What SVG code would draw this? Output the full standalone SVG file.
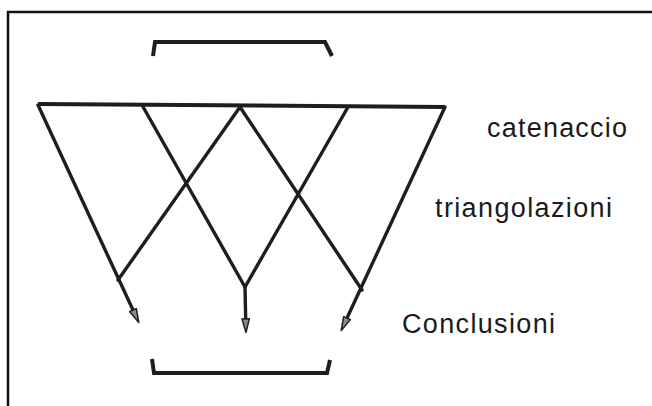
<svg xmlns="http://www.w3.org/2000/svg" width="652" height="406" viewBox="0 0 652 406">
  <style>
    .ln { stroke: #1e1e1e; stroke-width: 3.4; fill: none; stroke-linecap: round; stroke-linejoin: round; }
    .bar { stroke: #1e1e1e; stroke-width: 4; fill: none; stroke-linejoin: miter; }
    .frame { stroke: #111; stroke-width: 2.5; fill: none; }
    .lbl { font-family: "Liberation Sans", Arial, sans-serif; font-size: 27px; fill: #1a1a1a; }
  </style>
  <defs>
    <marker id="arr" viewBox="0 0 15 9" refX="6" refY="4.5" markerWidth="15" markerHeight="9" markerUnits="userSpaceOnUse" orient="auto">
      <path d="M0.8,0.8 L14.5,4.5 L0.8,8.2 Z" fill="#8a8a8a" stroke="#1e1e1e" stroke-width="1.5" stroke-linejoin="miter"/>
    </marker>
  </defs>

  <g id="frame">
    <path class="frame" d="M8,406 L8,12 L652,12"/>
  </g>

  <g id="bracket-top">
    <path class="bar" d="M153,56 L155,42 L325,42 L332,56"/>
  </g>

  <g id="bracket-bottom">
    <path class="bar" d="M152,359 L154,373 L327,373 L330,360"/>
  </g>

  <g id="connectors">
    <path id="top-bar" class="bar" d="M38,104 L445,107"/>
    <path class="ln" d="M38,105 L135.2,314.8" marker-end="url(#arr)"/>
    <path class="ln" d="M142,105 L245,287"/>
    <path class="ln" d="M240,107 L118,280"/>
    <path class="ln" d="M240,107 L362,290"/>
    <path class="ln" d="M348,107 L245,287"/>
    <path class="ln" d="M245,287 L245.8,324" marker-end="url(#arr)"/>
    <path class="ln" d="M445,107 L344.8,322.8" marker-end="url(#arr)"/>
  </g>

  <g id="label-catenaccio">
    <text class="lbl" x="487" y="137" textLength="140" lengthAdjust="spacing">catenaccio</text>
  </g>
  <g id="label-triangolazioni">
    <text class="lbl" x="435" y="217" textLength="177" lengthAdjust="spacing">triangolazioni</text>
  </g>
  <g id="label-conclusioni">
    <text class="lbl" x="402" y="333" textLength="153" lengthAdjust="spacing">Conclusioni</text>
  </g>
</svg>
